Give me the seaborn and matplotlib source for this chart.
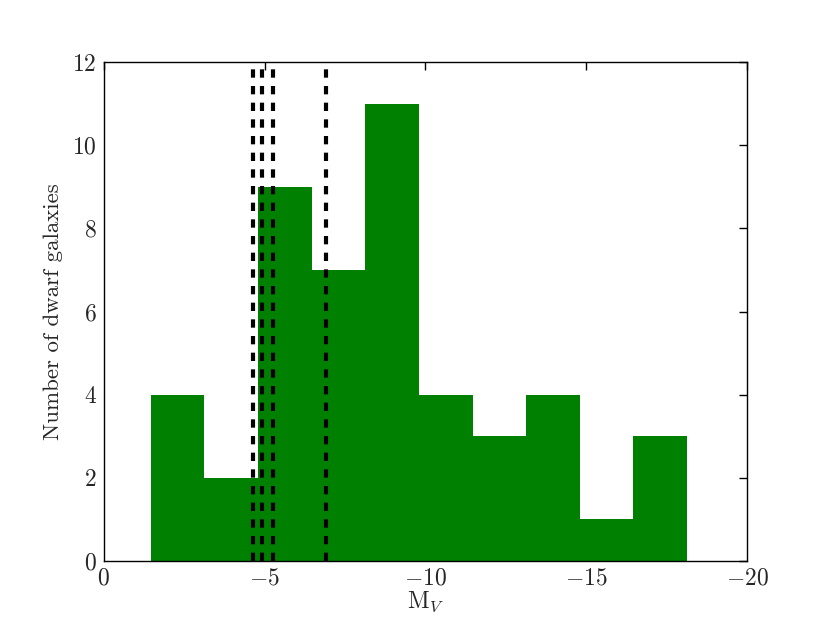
import numpy as np
import pandas as pd
import matplotlib
matplotlib.use("Agg")
import matplotlib.pyplot as plt
import seaborn as sns

# Data
bin_edges = [-1.46, -3.13, -4.80, -6.46, -8.13, -9.80, -11.47, -13.13, -14.80, -16.47, -18.13]
counts = [4, 2, 9, 7, 11, 4, 3, 4, 1, 3]
marker_mags = [-4.65, -4.91, -5.27, -6.92]
x_ticks = [0, -5, -10, -15, -20]
y_ticks = [0, 2, 4, 6, 8, 10, 12]

sns.set_theme(style="white")
plt.rcParams.update({
    "font.family": "serif",
    "font.serif": ["cmr10", "DejaVu Serif"],
    "mathtext.fontset": "cm",
    "axes.formatter.use_mathtext": True,
    "axes.unicode_minus": True,
    "xtick.direction": "in",
    "ytick.direction": "in",
    "xtick.top": True,
    "ytick.right": True,
    "lines.scale_dashes": False,
})

edges = np.array(bin_edges)
centers = (edges[:-1] + edges[1:]) / 2
df = pd.DataFrame({"mag": centers, "n": counts})

fig = plt.figure(figsize=(8.3, 6.23), dpi=100)
ax = fig.add_axes([0.125, 0.1, 0.775, 0.8])

sns.histplot(data=df, x="mag", weights="n", bins=sorted(bin_edges), color="green",
             alpha=1.0, linewidth=0, ax=ax)

for m in marker_mags:
    ax.axvline(m, color="black", linewidth=3, linestyle=(0, (6, 6)))

ax.set_xlim(0, -20)
ax.set_ylim(0, 12)
ax.set_xticks(x_ticks)
ax.set_yticks(y_ticks)
ax.set_xlabel(r"M$_V$", fontsize=17)
ax.set_ylabel("Number of dwarf galaxies", fontsize=16.5)
ax.yaxis.label.set(rotation_mode="default", ha="right", va="center")
ax.yaxis.set_label_coords(-0.064, 0.5)
ax.xaxis.set_label_coords(0.5, -0.058)
ax.xaxis.label.set_va("top")
ax.tick_params(axis="both", which="major", labelsize=17, length=6, width=1, color="black",
               top=True, right=True, pad=5)
for s in ax.spines.values():
    s.set_visible(True)
    s.set_color("black")
    s.set_linewidth(1)

fig.savefig("out.png", dpi=100)
